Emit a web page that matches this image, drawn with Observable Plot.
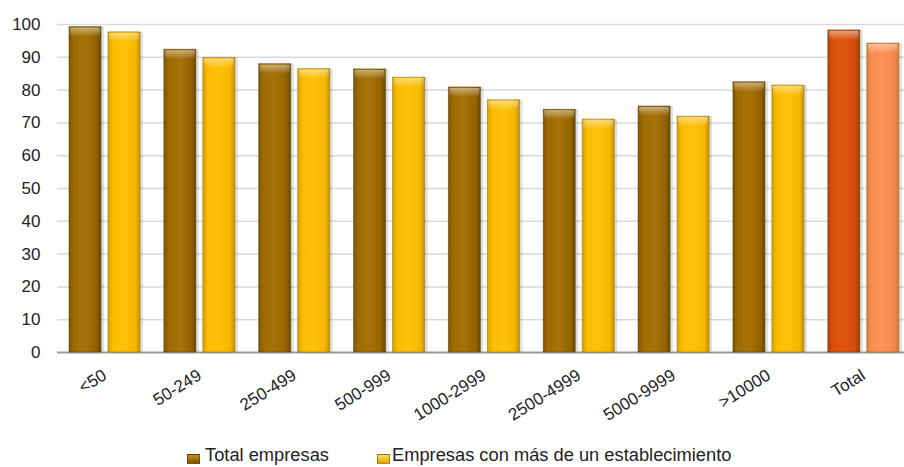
<!DOCTYPE html>
<html>
<head>
<meta charset="utf-8">
<script src="https://cdn.jsdelivr.net/npm/d3@7"></script>
<script src="https://cdn.jsdelivr.net/npm/@observablehq/plot@0.6"></script>
<style>
  html, body { margin: 0; padding: 0; background: #fff; }
  #chart { width: 904px; height: 440px; }
  #legend { position: relative; width: 904px; height: 27px; overflow: hidden;
    font-family: "Liberation Sans", Arial, sans-serif; font-size: 18.3px; color: #222; }
  .sw { position: absolute; top: 14px; width: 13px; height: 10px; border: 1px solid rgba(0,0,0,0.35); box-sizing: border-box; }
  .lt { position: absolute; top: 4px; line-height: 22px; white-space: nowrap; }
</style>
</head>
<body>
<div id="chart"></div>
<div id="legend"></div>
<script>
const categories = ["<50", "50-249", "250-499", "500-999", "1000-2999", "2500-4999", "5000-9999", ">10000", "Total"];
const seriesNames = ["Total empresas", "Empresas con más de un establecimiento"];
const totalEmpresas = [99.2, 92.3, 87.9, 86.3, 80.8, 74.0, 75.0, 82.4, 98.2];
const masDeUno = [97.6, 89.8, 86.4, 83.8, 76.9, 71.0, 71.9, 81.4, 94.2];
const yTicks = [0, 10, 20, 30, 40, 50, 60, 70, 80, 90, 100];

const rows1 = categories.map((c, i) => ({cat: c, serie: seriesNames[0], value: totalEmpresas[i]}));
const rows2 = categories.map((c, i) => ({cat: c, serie: seriesNames[1], value: masDeUno[i]}));

const fillFor = (d, k) => d.cat === "Total" ? (k === 0 ? "url(#gTot1)" : "url(#gTot2)") : (k === 0 ? "url(#gBrown)" : "url(#gGold)");

const font = "'Liberation Sans', Arial, sans-serif";
const in1 = {insetLeft: 12, insetRight: 50.8};
const in2 = {insetLeft: 51, insetRight: 11.8};
const plot = Plot.plot({
  width: 904,
  height: 440,
  marginLeft: 57,
  marginRight: 0,
  marginTop: 24,
  marginBottom: 88,
  style: {fontFamily: font, fontSize: "17px", color: "#222", background: "transparent"},
  x: {domain: categories, range: [57, 910.6], padding: 0, round: false, tickRotate: -32, tickSize: 0, tickPadding: 21, label: null},
  y: {domain: [0, 100], ticks: yTicks, tickSize: 0, tickPadding: 17, label: null, tickFormat: d => String(d)},
  color: {type: "identity"},
  marks: [
    Plot.ruleY(yTicks.filter(t => t > 0), {stroke: "#d9d9d9", strokeWidth: 1.5}),
    Plot.barY(rows1, {x: "cat", y: "value", ...in1, dx: 3, fill: "#000", fillOpacity: 0.12}),
    Plot.barY(rows2, {x: "cat", y: "value", ...in2, dx: 3, fill: "#000", fillOpacity: 0.12}),
    Plot.ruleY([0], {stroke: "#9a9a9a", strokeWidth: 2}),
    Plot.barY(rows1, {x: "cat", y: "value", ...in1, fill: d => fillFor(d, 0), stroke: "#5a3c00", strokeOpacity: 0.5, strokeWidth: 1}),
    Plot.barY(rows2, {x: "cat", y: "value", ...in2, fill: d => fillFor(d, 1), stroke: "#8a6a00", strokeOpacity: 0.5, strokeWidth: 1}),
    Plot.barY(rows1, {x: "cat", y1: "value", y2: "value", ...in1, insetLeft: 13, insetRight: 51.8, insetTop: 1, insetBottom: -10, fill: "url(#gShine)"}),
    Plot.barY(rows2, {x: "cat", y1: "value", y2: "value", ...in2, insetLeft: 52, insetRight: 12.8, insetTop: 1, insetBottom: -10, fill: "url(#gShine)"})
  ]
});

const svg = d3.select(plot);
const defs = svg.insert("defs", ":first-child");
function grad(id, stops, vertical) {
  const g = defs.append("linearGradient").attr("id", id).attr("x1", "0").attr("x2", vertical ? "0" : "1").attr("y1", "0").attr("y2", vertical ? "1" : "0");
  stops.forEach(([o, c, op]) => g.append("stop").attr("offset", o).attr("stop-color", c).attr("stop-opacity", op == null ? 1 : op));
}
grad("gBrown", [[0, "#7d5500"], [0.15, "#9e6b04"], [0.5, "#a77208"], [0.85, "#946402"], [1, "#6a4800"]]);
grad("gGold", [[0, "#d9a000"], [0.15, "#fbbb00"], [0.5, "#ffc20a"], [0.85, "#f5b800"], [1, "#c89200"]]);
grad("gTot1", [[0, "#b54008"], [0.15, "#d9500c"], [0.5, "#e0560f"], [0.85, "#d24c0a"], [1, "#a53a05"]]);
grad("gTot2", [[0, "#e07a40"], [0.15, "#fb8c52"], [0.5, "#ff9358"], [0.85, "#f5884e"], [1, "#d8763c"]]);
grad("gShine", [[0, "#fff", 0.45], [1, "#fff", 0]], true);

document.getElementById("chart").appendChild(plot);

// legend
const legend = d3.select("#legend");
const legendItems = [
  {name: seriesNames[0], sw: 187, tx: 205, bg: "linear-gradient(#c8901a, #7d5500)"},
  {name: seriesNames[1], sw: 377, tx: 392, bg: "linear-gradient(#ffe050, #e0a800)"}
];
legendItems.forEach(it => {
  legend.append("div").attr("class", "sw").style("left", it.sw + "px").style("background", it.bg);
  legend.append("div").attr("class", "lt").style("left", it.tx + "px").text(it.name);
});
</script>
</body>
</html>
